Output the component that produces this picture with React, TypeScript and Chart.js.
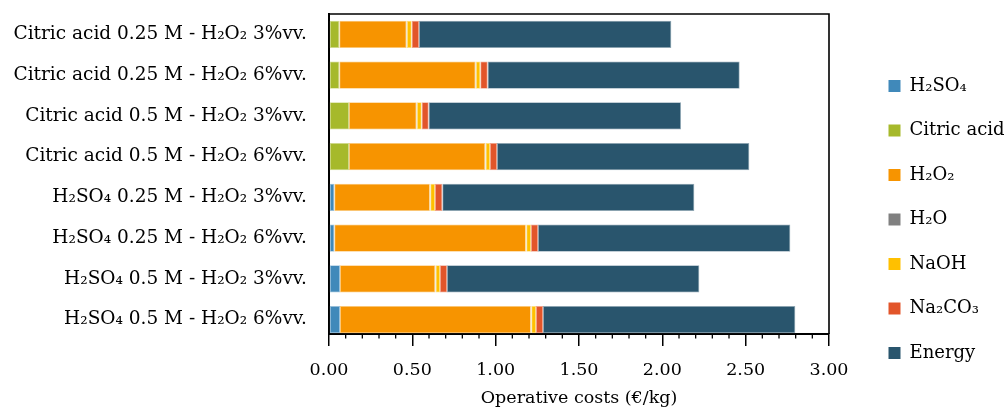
import React, { useEffect, useRef } from 'react';
import { Chart, registerables } from 'chart.js';

Chart.register(...registerables);

// ---------------- data ----------------
const categories = [
  'Citric acid 0.25 M - H₂O₂ 3%vv.',
  'Citric acid 0.25 M - H₂O₂ 6%vv.',
  'Citric acid 0.5 M - H₂O₂ 3%vv.',
  'Citric acid 0.5 M - H₂O₂ 6%vv.',
  'H₂SO₄ 0.25 M - H₂O₂ 3%vv.',
  'H₂SO₄ 0.25 M - H₂O₂ 6%vv.',
  'H₂SO₄ 0.5 M - H₂O₂ 3%vv.',
  'H₂SO₄ 0.5 M - H₂O₂ 6%vv.',
];

const seriesNames = ['H₂SO₄', 'Citric acid', 'H₂O₂', 'H₂O', 'NaOH', 'Na₂CO₃', 'Energy'];

const h2so4 = [0, 0, 0, 0, 0.032, 0.032, 0.066, 0.066];
const citricAcid = [0.062, 0.062, 0.12, 0.12, 0, 0, 0, 0];
const h2o2 = [0.403, 0.817, 0.405, 0.817, 0.573, 1.149, 0.571, 1.145];
const h2o = [0.003, 0.003, 0.003, 0.003, 0.003, 0.003, 0.003, 0.003];
const naoh = [0.028, 0.026, 0.028, 0.026, 0.028, 0.028, 0.026, 0.028];
const na2co3 = [0.044, 0.044, 0.042, 0.042, 0.044, 0.042, 0.042, 0.042];
const energy = [1.514, 1.512, 1.514, 1.514, 1.512, 1.514, 1.514, 1.514];

const xTickValues = [0, 0.5, 1, 1.5, 2, 2.5, 3];
const X_MIN = 0;
const X_MAX = 3;
const MAJOR_STEP = 0.5;
const MINOR_STEP = 0.1;
const xTitle = 'Operative costs (€/kg)';

// ---------------- styles ----------------
const seriesColors = ['#4089BA', '#A6B92B', '#F79400', '#808080', '#FFC000', '#E2552A', '#29556D'];
const seriesBorders = ['#9CC2DC', '#D0DB8F', '#FBC97A', '#BDBDBD', '#FFDE80', '#F0A48C', '#93A9B6'];

const FONT = "'DejaVu Serif', 'Liberation Serif', serif";
const W = 1005;
const H = 419;
const PLOT_LEFT = 329;
const PLOT_RIGHT = 829;
const PLOT_TOP = 14;
const PLOT_BOTTOM = 334;
const CATEGORY_SPAN = 7.855; // Excel-like band layout (last band runs slightly past the axis)
const LEGEND_INSET = 33;
const LEGEND_DROP = 3;

const plotFrame = {
  id: 'plotFrame',
  afterDraw(chart: any) {
    const { ctx, chartArea } = chart;
    ctx.save();
    ctx.strokeStyle = '#000';
    ctx.lineWidth = 1.6;
    ctx.beginPath();
    ctx.moveTo(chartArea.left, chartArea.top);
    ctx.lineTo(chartArea.right, chartArea.top);
    ctx.lineTo(chartArea.right, chartArea.bottom);
    ctx.stroke();
    // minor ticks
    const xs = chart.scales.x;
    ctx.lineWidth = 1.3;
    const n = Math.round((X_MAX - X_MIN) / MINOR_STEP);
    const ratio = Math.round(MAJOR_STEP / MINOR_STEP);
    for (let k = 0; k <= n; k++) {
      if (k % ratio === 0) continue;
      const px = xs.getPixelForValue(X_MIN + k * MINOR_STEP);
      ctx.beginPath();
      ctx.moveTo(px, chartArea.bottom);
      ctx.lineTo(px, chartArea.bottom + 4.5);
      ctx.stroke();
    }
    ctx.restore();
  },
};

const legendPlace = {
  id: 'legendPlace',
  beforeLayout(chart: any) {
    const lg = chart.legend;
    if (lg && !lg.__wrapped) {
      const orig = lg.fit;
      lg.fit = function () {
        orig.call(this);
        if (!this.isHorizontal()) this.width = W - PLOT_RIGHT;
      };
      lg.__wrapped = true;
    }
  },
  afterLayout(chart: any) {
    const lg = chart.legend;
    if (!lg) return;
    lg.left += LEGEND_INSET;
    lg.top += LEGEND_DROP;
    lg.bottom += LEGEND_DROP;
  },
};

export default function App() {
  const ref = useRef<HTMLCanvasElement>(null);

  useEffect(() => {
    document.body.style.margin = '0';
    Chart.defaults.font.family = FONT;
    Chart.defaults.color = '#000';
    const values = [h2so4, citricAcid, h2o2, h2o, naoh, na2co3, energy];
    const chart = new Chart(ref.current!, {
      type: 'bar',
      data: {
        labels: categories,
        datasets: seriesNames.map((name, i) => ({
          label: name,
          data: values[i],
          backgroundColor: seriesColors[i],
          borderColor: seriesBorders[i],
          borderWidth: 0.8,
          borderSkipped: false,
          categoryPercentage: 1,
          barPercentage: 0.67,
        })),
      },
      options: {
        indexAxis: 'y',
        animation: false,
        responsive: true,
        maintainAspectRatio: false,
        devicePixelRatio: 1,
        layout: { padding: { top: PLOT_TOP, left: 0, right: 0, bottom: 0 } },
        plugins: {
          tooltip: { enabled: false },
          legend: {
            position: 'right',
            align: 'center',
            labels: {
              boxWidth: 12,
              boxHeight: 12,
              padding: 26.5,
              color: '#000',
              font: { family: FONT, size: 18 },
              generateLabels: (c: any) =>
                Chart.defaults.plugins.legend.labels
                  .generateLabels(c)
                  .map((l: any) => ({ ...l, lineWidth: 0 })),
            },
          },
        },
        scales: {
          x: {
            type: 'linear',
            stacked: true,
            min: X_MIN,
            max: X_MAX,
            afterBuildTicks: (s: any) => {
              s.ticks = xTickValues.map((v) => ({ value: v }));
            },
            afterFit: (s: any) => {
              s.height = H - PLOT_BOTTOM;
            },
            grid: {
              display: true,
              drawOnChartArea: false,
              drawTicks: true,
              tickLength: 12,
              color: '#000',
              lineWidth: 1.5,
            },
            border: { display: true, color: '#000', width: 2 },
            ticks: {
              padding: 13.5,
              color: '#000',
              font: { family: FONT, size: 17.5 },
              callback: (v: any) => Number(v).toFixed(2),
            },
            title: {
              display: true,
              text: xTitle,
              color: '#000',
              font: { family: FONT, size: 17.5 },
              padding: { top: 0, bottom: 10.5 },
            },
          },
          y: {
            type: 'category',
            stacked: true,
            offset: true,
            afterBuildTicks: (s: any) => {
              s._valueRange = CATEGORY_SPAN;
            },
            afterFit: (s: any) => {
              s.width = PLOT_LEFT;
              s.paddingTop = 0;
              s.paddingBottom = 0;
            },
            grid: { display: false, drawTicks: false },
            border: { display: true, color: '#000', width: 2 },
            ticks: {
              padding: 22,
              color: '#000',
              font: { family: FONT, size: 18.5 },
            },
          },
        },
      },
      plugins: [plotFrame, legendPlace],
    } as any);
    return () => chart.destroy();
  }, []);

  return (
    <div style={{ position: 'relative', width: W, height: H }}>
      <canvas ref={ref} />
    </div>
  );
}
